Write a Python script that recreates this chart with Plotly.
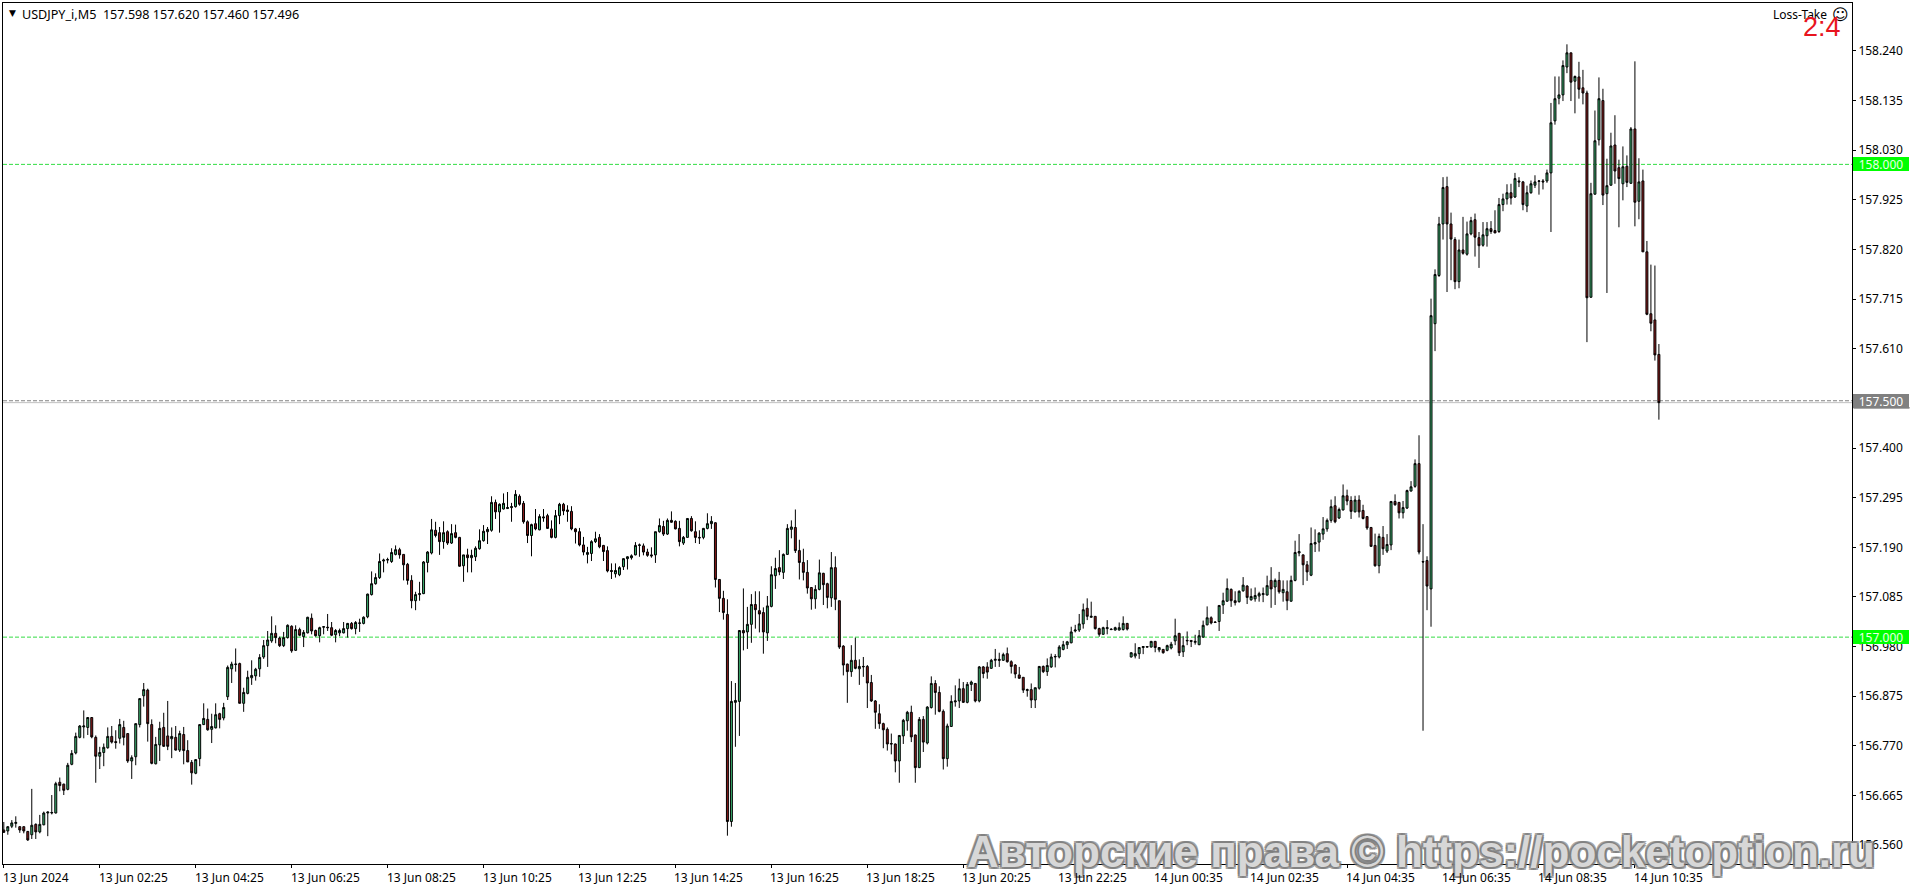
import plotly.graph_objects as go

opens = [
156.592,156.590,156.600,156.606,156.599,156.599,156.589,156.582,156.604,156.588,
156.603,156.628,156.628,156.628,156.693,156.689,156.678,156.731,156.755,156.788,
156.810,156.809,156.830,156.788,156.748,156.756,156.766,156.790,156.779,156.786,
156.809,156.796,156.738,156.747,156.815,156.876,156.888,156.815,156.732,156.772,
156.809,156.791,156.785,156.788,156.761,156.794,156.760,156.735,156.712,156.743,
156.815,156.826,156.805,156.808,156.838,156.829,156.874,156.933,156.942,156.944,
156.860,156.881,156.914,156.918,156.933,156.958,156.982,156.992,157.008,156.998,
156.982,156.999,157.023,156.972,157.016,157.001,157.009,157.040,157.014,157.003,
157.021,157.021,157.020,157.005,157.009,157.009,157.018,157.029,157.018,157.029,
157.029,157.043,157.090,157.113,157.126,157.161,157.163,157.160,157.175,157.185,
157.175,157.154,157.120,157.077,157.090,157.092,157.158,157.178,157.226,157.221,
157.202,157.223,157.199,157.221,157.211,157.151,157.174,157.168,157.170,157.187,
157.204,157.223,157.226,157.285,157.265,157.271,157.272,157.274,157.276,157.298,
157.283,157.244,157.215,157.240,157.227,157.252,157.257,157.229,157.211,157.257,
157.281,157.269,157.266,157.229,157.223,157.195,157.175,157.177,157.202,157.211,
157.194,157.183,157.141,157.134,157.132,157.149,157.166,157.168,157.174,157.194,
157.193,157.180,157.174,157.174,157.223,157.234,157.218,157.247,157.245,157.230,
157.199,157.211,157.251,157.223,157.211,157.211,157.230,157.240,157.242,157.122,
157.082,157.048,156.610,156.862,156.864,157.014,157.011,157.027,157.069,157.056,
157.052,157.009,157.065,157.130,157.147,157.137,157.175,157.228,157.232,157.183,
157.158,157.137,157.105,157.081,157.101,157.135,157.113,157.083,157.147,157.077,
156.981,156.943,156.927,156.951,156.933,156.937,156.938,156.904,156.865,156.838,
156.817,156.805,156.775,156.774,156.738,156.791,156.823,156.841,156.793,156.724,
156.826,156.776,156.851,156.902,156.883,156.843,156.743,156.811,156.863,156.865,
156.891,156.862,156.900,156.902,156.865,156.937,156.937,156.934,156.951,156.953,
156.951,156.965,156.948,156.941,156.920,156.915,156.887,156.889,156.867,156.892,
156.938,156.927,156.937,156.958,156.958,156.974,156.984,156.988,157.013,157.015,
157.028,157.061,157.042,157.044,157.018,157.006,157.018,157.017,157.015,157.015,
157.016,157.029,156.958,156.960,156.965,156.978,156.980,156.979,156.991,156.973,
156.974,156.972,156.977,156.992,157.008,156.969,156.992,156.993,156.989,156.984,
157.000,157.026,157.041,157.032,157.033,157.068,157.076,157.101,157.077,157.075,
157.098,157.108,157.079,157.081,157.087,157.090,157.089,157.120,157.106,157.120,
157.094,157.096,157.076,157.120,157.178,157.174,157.153,157.131,157.197,157.201,
157.218,157.229,157.247,157.278,157.252,157.269,157.299,157.289,157.265,157.290,
157.268,157.255,157.232,157.194,157.151,157.211,157.182,157.195,157.287,157.285,
157.263,157.273,157.309,157.319,157.367,157.160,157.162,157.102,157.663,157.765,
157.874,157.953,157.874,157.841,157.752,157.819,157.810,157.853,157.883,157.845,
157.829,157.849,157.864,157.860,157.858,157.915,157.927,157.940,157.931,157.965,
157.963,157.912,157.940,157.956,157.964,157.965,157.965,157.982,158.092,158.140,
158.147,158.206,158.236,158.176,158.185,158.162,158.151,157.719,157.937,158.052,
158.135,157.938,157.956,158.041,157.993,157.959,157.996,157.960,158.075,157.922,
157.965,157.815,157.684,157.671,157.598]

highs = [
156.609,156.600,156.613,156.621,156.600,156.600,156.590,156.679,156.606,156.624,
156.631,156.631,156.666,156.694,156.703,156.690,156.734,156.761,156.798,156.814,
156.845,156.830,156.830,156.792,156.768,156.775,156.809,156.812,156.803,156.827,
156.823,156.796,156.750,156.817,156.870,156.903,156.891,156.826,156.789,156.821,
156.840,156.865,156.809,156.812,156.802,156.810,156.782,156.740,156.741,156.815,
156.860,156.849,156.838,156.860,156.840,156.861,156.940,156.948,156.976,156.946,
156.893,156.929,156.951,156.935,156.964,156.994,157.013,157.044,157.025,157.001,
157.011,157.027,157.025,157.025,157.020,157.015,157.043,157.050,157.016,157.022,
157.023,157.049,157.032,157.017,157.018,157.032,157.030,157.032,157.034,157.039,
157.044,157.092,157.139,157.135,157.177,157.166,157.168,157.188,157.194,157.189,
157.175,157.157,157.131,157.096,157.117,157.161,157.182,157.250,157.244,157.233,
157.245,157.226,157.239,157.238,157.212,157.174,157.187,157.185,157.192,157.228,
157.237,157.233,157.298,157.291,157.283,157.304,157.307,157.284,157.311,157.302,
157.288,157.247,157.240,157.271,157.260,157.271,157.261,157.247,157.269,157.284,
157.284,157.279,157.277,157.231,157.231,157.212,157.191,157.205,157.223,157.218,
157.195,157.192,157.156,157.156,157.150,157.167,157.171,157.175,157.201,157.198,
157.198,157.187,157.190,157.223,157.251,157.246,157.251,157.266,157.247,157.246,
157.214,157.251,157.256,157.245,157.226,157.231,157.262,157.256,157.243,157.123,
157.098,157.080,156.907,156.903,157.014,157.103,157.064,157.091,157.097,157.097,
157.063,157.087,157.150,157.168,157.184,157.177,157.239,157.247,157.270,157.206,
157.187,157.163,157.106,157.110,157.164,157.136,157.115,157.180,157.171,157.077,
156.983,156.944,156.983,156.999,156.953,156.958,156.941,156.920,156.867,156.858,
156.819,156.809,156.796,156.775,156.793,156.827,156.844,156.855,156.794,156.831,
156.833,156.854,156.917,156.909,156.896,156.847,156.817,156.877,156.898,156.912,
156.905,156.905,156.908,156.903,156.939,156.939,156.947,156.954,156.975,156.967,
156.967,156.978,156.951,156.943,156.937,156.915,156.891,156.902,156.893,156.939,
156.940,156.955,156.965,156.964,156.983,156.992,156.992,157.022,157.026,157.049,
157.071,157.082,157.075,157.044,157.020,157.022,157.036,157.019,157.022,157.031,
157.044,157.030,156.968,156.987,156.979,156.981,156.980,156.992,156.992,156.979,
156.975,156.984,156.990,157.039,157.009,157.002,157.012,156.993,157.005,157.015,
157.035,157.065,157.044,157.034,157.067,157.094,157.124,157.103,157.097,157.099,
157.127,157.110,157.103,157.105,157.096,157.105,157.130,157.148,157.124,157.138,
157.120,157.120,157.130,157.204,157.218,157.175,157.161,157.232,157.228,157.222,
157.254,157.251,157.291,157.298,157.274,157.323,157.312,157.298,157.299,157.300,
157.280,157.256,157.233,157.219,157.219,157.235,157.218,157.287,157.302,157.286,
157.288,157.312,157.330,157.376,157.427,157.239,157.171,157.716,157.778,157.889,
157.973,157.974,157.898,157.846,157.841,157.889,157.879,157.889,157.896,157.857,
157.878,157.878,157.880,157.903,157.929,157.938,157.958,157.959,157.982,157.973,
157.965,157.955,157.966,157.977,157.967,157.969,157.989,158.130,158.186,158.186,
158.220,158.254,158.236,158.188,158.217,158.200,158.156,157.961,158.114,158.184,
158.160,158.012,158.067,158.104,158.010,158.038,158.019,158.079,158.218,158.013,
157.989,157.838,157.788,157.786,157.620]

lows = [
156.586,156.582,156.596,156.597,156.586,156.585,156.569,156.573,156.573,156.585,
156.602,156.579,156.625,156.627,156.674,156.666,156.676,156.729,156.752,156.786,
156.786,156.793,156.786,156.692,156.721,156.727,156.764,156.775,156.764,156.775,
156.771,156.734,156.700,156.729,156.809,156.853,156.779,156.731,156.731,156.738,
156.768,156.761,156.744,156.760,156.757,156.731,156.736,156.688,156.710,156.727,
156.814,156.802,156.776,156.807,156.807,156.824,156.867,156.903,156.927,156.860,
156.842,156.879,156.899,156.908,156.916,156.954,156.937,156.988,156.987,156.979,
156.979,156.997,156.967,156.971,157.002,156.979,157.008,157.006,157.001,156.989,
157.006,157.013,157.002,156.989,157.002,157.008,156.999,157.016,157.006,157.011,
157.027,157.040,157.088,157.111,157.123,157.137,157.156,157.157,157.173,157.166,
157.120,157.111,157.061,157.057,157.077,157.091,157.137,157.175,157.211,157.174,
157.187,157.195,157.197,157.209,157.149,157.117,157.137,157.137,157.161,157.185,
157.202,157.197,157.223,157.250,157.221,157.270,157.271,157.244,157.274,157.278,
157.240,157.199,157.171,157.226,157.226,157.244,157.229,157.209,157.209,157.239,
157.258,157.244,157.226,157.198,157.192,157.173,157.156,157.161,157.199,157.188,
157.161,157.137,157.123,157.126,157.129,157.142,157.143,157.164,157.173,157.170,
157.173,157.170,157.168,157.157,157.221,157.214,157.216,157.242,157.228,157.192,
157.195,157.211,157.223,157.199,157.197,157.207,157.228,157.229,157.105,157.053,
157.037,156.580,156.599,156.768,156.791,156.972,156.975,156.988,157.018,157.010,
156.965,156.992,157.063,157.102,157.131,157.123,157.174,157.209,157.178,157.122,
157.120,157.092,157.058,157.060,157.099,157.068,157.061,157.064,157.057,156.975,
156.919,156.861,156.916,156.932,156.899,156.916,156.850,156.863,156.806,156.806,
156.765,156.760,156.752,156.714,156.692,156.774,156.802,156.778,156.692,156.723,
156.757,156.773,156.849,156.836,156.841,156.720,156.726,156.810,156.853,156.850,
156.861,156.860,156.886,156.862,156.862,156.913,156.912,156.933,156.937,156.937,
156.950,156.946,156.923,156.913,156.912,156.882,156.874,156.850,156.850,156.889,
156.924,156.918,156.935,156.936,156.955,156.972,156.975,156.987,157.010,157.011,
157.018,157.036,157.041,157.016,157.001,157.005,157.006,157.015,157.014,157.014,
157.014,157.014,156.957,156.955,156.954,156.964,156.979,156.978,156.968,156.968,
156.965,156.970,156.974,156.983,156.960,156.958,156.983,156.979,156.984,156.983,
156.999,157.025,157.027,157.030,157.013,157.049,157.075,157.064,157.067,157.073,
157.096,157.070,157.077,157.075,157.075,157.074,157.088,157.062,157.068,157.092,
157.075,157.057,157.075,157.118,157.171,157.110,157.119,157.129,157.180,157.181,
157.206,157.223,157.242,157.241,157.250,157.268,157.279,157.250,157.264,157.253,
157.249,157.227,157.191,157.149,157.135,157.174,157.178,157.184,157.278,157.251,
157.251,157.271,157.308,157.316,157.175,156.802,157.057,157.022,157.605,157.762,
157.841,157.730,157.755,157.736,157.738,157.809,157.807,157.850,157.805,157.781,
157.826,157.826,157.853,157.855,157.855,157.901,157.915,157.915,157.929,157.952,
157.903,157.899,157.938,157.950,157.936,157.947,157.961,157.857,158.084,158.127,
158.134,158.193,158.134,158.108,158.139,158.127,157.624,157.718,157.936,158.040,
157.914,157.728,157.955,157.959,157.867,157.924,157.952,157.959,157.869,157.884,
157.815,157.681,157.647,157.585,157.460]

closes = [
156.587,156.599,156.607,156.608,156.592,156.590,156.571,156.602,156.588,156.604,
156.628,156.630,156.629,156.690,156.686,156.676,156.729,156.754,156.790,156.812,
156.812,156.830,156.789,156.748,156.756,156.767,156.790,156.778,156.777,156.815,
156.788,156.738,156.745,156.817,156.870,156.889,156.817,156.733,156.773,156.807,
156.769,156.769,156.790,156.761,156.796,156.760,156.736,156.713,156.741,156.815,
156.828,156.804,156.811,156.836,156.826,156.851,156.936,156.943,156.943,156.860,
156.883,156.915,156.919,156.932,156.957,156.982,156.994,157.008,156.999,156.982,
156.999,157.025,156.971,157.016,157.004,157.010,157.042,157.013,157.003,157.020,
157.022,157.020,157.004,157.014,157.014,157.018,157.029,157.018,157.031,157.030,
157.042,157.091,157.113,157.126,157.160,157.163,157.164,157.179,157.185,157.174,
157.153,157.120,157.077,157.090,157.092,157.159,157.180,157.227,157.215,157.202,
157.221,157.199,157.219,157.211,157.150,157.174,157.168,157.173,157.188,157.204,
157.224,157.228,157.285,157.265,157.281,157.283,157.274,157.276,157.302,157.281,
157.244,157.215,157.238,157.229,157.255,157.254,157.230,157.211,157.257,157.281,
157.267,157.266,157.229,157.223,157.195,157.180,157.179,157.202,157.208,157.191,
157.181,157.140,157.139,157.141,157.147,157.166,157.170,157.172,157.194,157.195,
157.180,157.173,157.172,157.223,157.236,157.218,157.247,157.243,157.229,157.202,
157.211,157.251,157.225,157.211,157.210,157.230,157.240,157.245,157.122,157.082,
157.052,156.610,156.864,156.866,157.014,157.009,157.027,157.069,157.058,157.049,
157.011,157.066,157.132,157.145,157.138,157.175,157.230,157.233,157.183,157.158,
157.137,157.104,157.081,157.101,157.136,157.111,157.084,157.147,157.080,156.979,
156.941,156.927,156.951,156.934,156.938,156.938,156.903,156.865,156.841,156.817,
156.804,156.774,156.774,156.738,156.792,156.824,156.841,156.789,156.724,156.826,
156.778,156.852,156.902,156.883,156.843,156.743,156.812,156.864,156.865,156.891,
156.862,156.900,156.905,156.865,156.937,156.923,156.926,156.951,156.953,156.951,
156.963,156.948,156.938,156.922,156.913,156.888,156.889,156.867,156.893,156.938,
156.927,156.940,156.958,156.959,156.979,156.984,156.990,157.011,157.015,157.028,
157.058,157.044,157.044,157.018,157.006,157.020,157.020,157.016,157.020,157.020,
157.029,157.017,156.967,156.965,156.978,156.980,156.979,156.991,156.978,156.978,
156.967,156.982,156.985,157.003,156.967,156.982,156.993,156.991,156.991,157.003,
157.025,157.041,157.030,157.031,157.067,157.077,157.103,157.077,157.073,157.097,
157.110,157.084,157.086,157.088,157.092,157.092,157.109,157.102,157.120,157.096,
157.101,157.077,157.120,157.179,157.181,157.153,157.138,157.198,157.200,157.220,
157.229,157.247,157.276,157.244,157.270,157.299,157.288,157.266,157.290,157.265,
157.251,157.231,157.192,157.151,157.213,157.187,157.196,157.287,157.280,157.263,
157.274,157.310,157.318,157.367,157.180,157.159,157.108,157.680,157.767,157.874,
157.951,157.874,157.842,157.752,157.819,157.812,157.853,157.881,157.846,157.828,
157.851,157.864,157.858,157.855,157.915,157.927,157.940,157.929,157.970,157.963,
157.915,157.940,157.959,157.963,157.965,157.963,157.982,158.088,158.139,158.147,
158.209,158.236,158.174,158.186,158.159,158.151,157.718,157.938,158.050,158.139,
157.935,157.955,158.039,157.986,157.970,157.995,157.962,158.075,157.920,157.963,
157.815,157.683,157.664,157.597,157.496]

x_labels = ["13 Jun 2024", "13 Jun 02:25", "13 Jun 04:25", "13 Jun 06:25", "13 Jun 08:25",
            "13 Jun 10:25", "13 Jun 12:25", "13 Jun 14:25", "13 Jun 16:25", "13 Jun 18:25",
            "13 Jun 20:25", "13 Jun 22:25", "14 Jun 00:35", "14 Jun 02:35", "14 Jun 04:35",
            "14 Jun 06:35", "14 Jun 08:35", "14 Jun 10:35"]
x_label_step = 24
y_ticks = [158.240, 158.135, 158.030, 157.925, 157.820, 157.715, 157.610, 157.505, 157.400,
           157.295, 157.190, 157.085, 156.980, 156.875, 156.770, 156.665, 156.560]
green_levels = [158.0, 157.0]
gray_level = 157.5
header = "USDJPY_i,M5&nbsp;&nbsp;157.598 157.620 157.460 157.496"
watermark = "Авторские права © https://pocketoption.ru"

for name, s in (("highs", highs), ("lows", lows), ("closes", closes), ("opens", opens)):
    if len(s) != 415:
        raise SystemExit(f"{name} has {len(s)}")

W, H = 1916, 888
L, R, T, B = 2.5, 1852.5, 2.5, 864.0
FONT = "Noto Sans"
TXT = "#000000"
px = R - L
box_x = (1854 - L) / px
box_x1 = (1910 - L) / px

indices = list(range(len(closes)))
fig = go.Figure(go.Candlestick(
    x=indices, open=opens, high=highs, low=lows, close=closes,
    increasing=dict(line=dict(color="#000000", width=1), fillcolor="#3CB371"),
    decreasing=dict(line=dict(color="#000000", width=1), fillcolor="#8B1A1A"),
    whiskerwidth=0, showlegend=False, hoverinfo="skip",
))

shapes = []
for lv in green_levels:
    shapes.append(dict(type="line", xref="paper", x0=0, x1=1, yref="y", y0=lv, y1=lv, layer="below",
                       line=dict(color="#33DD44", width=1, dash="4px,2px")))
shapes.append(dict(type="line", xref="paper", x0=0, x1=1, yref="y", y0=gray_level, y1=gray_level,
                   layer="below", line=dict(color="#808080", width=1, dash="4px,2px")))
shapes.append(dict(type="line", xref="paper", x0=0, x1=1, yref="y", y0=closes[-1], y1=closes[-1],
                   layer="below", line=dict(color="#C0C0C0", width=1)))
shapes.append(dict(type="line", xref="paper", x0=box_x, x1=box_x1, yref="y", y0=157.485, y1=157.485,
                   line=dict(color="#000000", width=1)))

OUT = "rgba(125,125,125,0.8)"
outline = ",".join(f"{dx}px {dy}px 0 {OUT}" for dx in (-2, 0, 2) for dy in (-2, 0, 2) if dx or dy)
annotations = [
    dict(x=(1421 - L) / px, xref="paper", y=0, yref="paper", yshift=39, text=watermark, showarrow=False,
         xanchor="center", yanchor="top",
         font=dict(family="Liberation Sans", size=44, weight=700, color="rgba(232,232,232,0.85)", shadow=outline)),
]
for k, lab in enumerate(x_labels):
    annotations.append(dict(x=k * x_label_step, xref="x", y=0, yref="paper", yshift=-3, text=lab,
                            showarrow=False, xanchor="left", yanchor="top", xshift=-3,
                            font=dict(family=FONT, size=12, color=TXT)))

for lv, col, tcol in ((158.0, "#00FF00", "#E8FFE8"), (157.0, "#00FF00", "#E8FFE8"), (157.5, "#808080", "#FFFFFF")):
    annotations.append(dict(x=box_x, xref="paper", y=lv, yref="y", text=f"{lv:.3f}", showarrow=False,
                            xanchor="left", yanchor="middle", width=56, height=14, align="center",
                            bgcolor=col, borderpad=0, borderwidth=0,
                            font=dict(family=FONT, size=12, color=tcol)))

annotations += [
    dict(x=(20 - L) / px, xref="paper", y=1, yref="paper", yshift=-0.5, text=header, showarrow=False,
         xanchor="left", yanchor="top", font=dict(family=FONT, size=12.6, color=TXT)),
    dict(x=(7 - L) / px, xref="paper", y=1, yref="paper", yshift=-3, text="▼", showarrow=False,
         xanchor="left", yanchor="top", font=dict(family="DejaVu Sans", size=9, color=TXT)),
    dict(x=(1829 - L) / px, xref="paper", y=1, yref="paper", yshift=-1, text="Loss-Take", showarrow=False,
         xanchor="right", yanchor="top", font=dict(family=FONT, size=12, color=TXT)),
    dict(x=(1841 - L) / px, xref="paper", y=1, yref="paper", yshift=0, text="☺", showarrow=False,
         xanchor="center", yanchor="top", font=dict(family="DejaVu Sans", size=16, color=TXT)),
    dict(x=(1843 - L) / px, xref="paper", y=1, yref="paper", yshift=-6.5, text="2:4", showarrow=False,
         xanchor="right", yanchor="top", font=dict(family="Liberation Sans", size=27, color="#E8141E")),
]

fig.update_layout(
    width=W, height=H,
    margin=dict(l=L, r=W - R, t=T, b=H - B, autoexpand=False),
    paper_bgcolor="#FFFFFF", plot_bgcolor="#FFFFFF",
    shapes=shapes, annotations=annotations,
    xaxis=dict(range=[-0.2, -0.2 + (R - L) / 4], rangeslider=dict(visible=False), showgrid=False,
               zeroline=False, showline=True, mirror=True, linecolor="#000000", linewidth=1,
               tickmode="array", tickvals=[k * x_label_step for k in range(len(x_labels))],
               showticklabels=False, ticks="outside", ticklen=3, tickcolor="#000000", tickwidth=1),
    yaxis=dict(range=[156.5201, 158.3414], side="right", showgrid=False, zeroline=False, showline=True,
               mirror=True, linecolor="#000000", linewidth=1, tickmode="array", tickvals=y_ticks,
               ticktext=[f"{v:.3f}" for v in y_ticks], ticks="outside", ticklen=3, tickcolor="#000000",
               tickwidth=1, tickfont=dict(family=FONT, size=12, color=TXT)),
)

fig.write_html("out.html", config=dict(displayModeBar=False),
               post_script="document.body.style.margin='0';document.documentElement.style.overflow='hidden';")
